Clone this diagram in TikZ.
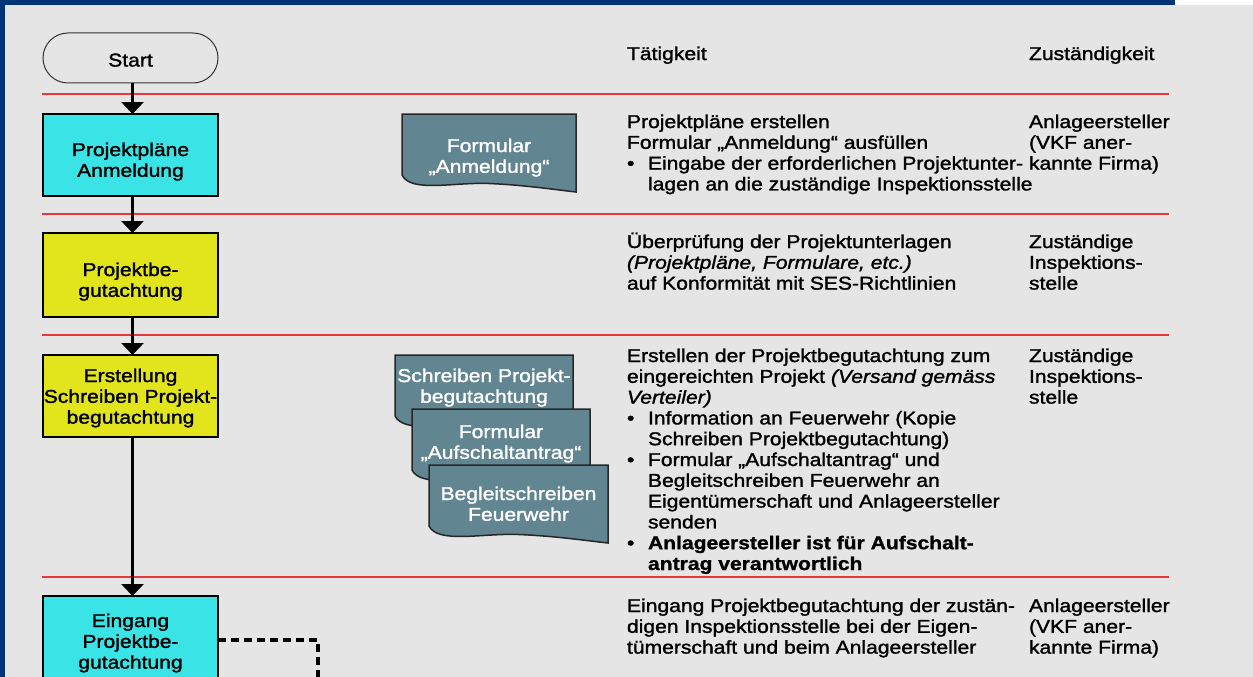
\documentclass[tikz,border=0pt]{standalone}
\usepackage{fontspec}
\setmainfont{Liberation Sans}[FakeStretch=1.14, UprightFeatures={FakeBold=1.5}, ItalicFeatures={FakeBold=1.5}, BoldFeatures={FakeBold=1.2}]
\usetikzlibrary{arrows.meta}
\definecolor{bggray}{RGB}{229,229,229}
\definecolor{frameblue}{RGB}{0,51,120}
\definecolor{redsep}{RGB}{232,56,60}
\definecolor{cCyan}{RGB}{58,228,230}
\definecolor{cYellow}{RGB}{227,229,28}
\definecolor{docfill}{RGB}{97,133,145}
\newcommand\tlines[1]{\vtop{\baselineskip=20.8pt\lineskiplimit=-100pt\lineskip=0pt\halign{##\hfil\cr#1\crcr}}}
\newcommand\clines[1]{\vtop{\baselineskip=20.8pt\lineskiplimit=-100pt\lineskip=0pt\halign{\hfil##\hfil\cr#1\crcr}}}
\newcommand\bul{\makebox[21pt][l]{•}}
\newcommand\ind{\kern21pt}
\newcommand\docshape[4]{%
  \begin{scope}[shift={(#1,#2)}]
    \path[docstyle] (0,0) -- (#3,0) -- (#3,#4)
      .. controls (0.85*#3,#4-3) and (0.7*#3,#4-7) .. (0.5*#3,#4-8.5)
      .. controls (0.3*#3,#4-10) and (0.05*#3,#4+1) .. (0,#4-17) -- cycle;
  \end{scope}}
\tikzset{
  every node/.style={inner sep=0pt, outer sep=0pt, font=\fontsize{18.5}{20.8}\selectfont},
  flowbox/.style={draw=black, line width=1.5pt, minimum width=175pt},
  cyanbox/.style={flowbox, fill=cCyan},
  yellowbox/.style={flowbox, fill=cYellow},
  terminal/.style={draw=black!80, line width=1pt, minimum width=175pt, minimum height=50pt, rounded corners=25pt},
  flowarrow/.style={line width=3.5pt, -{Triangle[width=22pt,length=12pt]}},
  dashconn/.style={line width=3.5pt, dash pattern=on 8pt off 5pt},
  sepline/.style={draw=redsep, line width=2pt},
  docstyle/.style={fill=docfill, draw=black!85, line width=1.5pt},
  doctext/.style={text=white, anchor=base},
  boxtext/.style={anchor=base},
  coltext/.style={anchor=base west},
}
\begin{document}
\begin{tikzpicture}[x=1pt, y=-1pt]
\useasboundingbox (0,0) rectangle (1253,677);
\clip (0,0) rectangle (1253,677);
% background and frame
\fill[bggray] (0,0) rectangle (1253,677);
\fill[frameblue] (0,0) rectangle (1175,5);
\fill[white] (1175,0) rectangle (1253,5);
\fill[frameblue] (0,0) rectangle (5,677);
% separator lines
\draw[sepline] (42,94) -- (1169,94);
\draw[sepline] (42,214) -- (1169,214);
\draw[sepline] (42,335) -- (1169,335);
\draw[sepline] (42,577) -- (1169,577);
% flow nodes
\node[terminal] (start) at (130.5,58) {};
\node[boxtext] (startt) at (130.5,66.5) {Start};
\node[cyanbox, minimum height=82pt] (b1) at (130.5,155) {};
\node[yellowbox, minimum height=84pt] (b2) at (130.5,275) {};
\node[yellowbox, minimum height=82pt] (b3) at (130.5,396) {};
\node[cyanbox, minimum height=88pt] (b4) at (130.5,640) {};
\node[boxtext] (b1t) at (130.5,156) {\clines{Projektpläne\cr Anmeldung}};
\node[boxtext] (b2t) at (130.5,276) {\clines{Projektbe-\cr gutachtung}};
\node[boxtext] (b3t) at (130.5,382) {\clines{Erstellung\cr Schreiben Projekt-\cr begutachtung}};
\node[boxtext] (b4t) at (130.5,627) {\clines{Eingang\cr Projektbe-\cr gutachtung}};
% connectors
\draw[flowarrow] ([xshift=2pt]start.south) -- ([xshift=2pt]b1.north);
\draw[flowarrow] ([xshift=2pt]b1.south) -- ([xshift=2pt]b2.north);
\draw[flowarrow] ([xshift=2pt]b2.south) -- ([xshift=2pt]b3.north);
\draw[flowarrow] ([xshift=2pt]b3.south) -- ([xshift=2pt]b4.north);
\coordinate (dend) at (318,690);
\draw[dashconn] (b4.east) -| (dend);
% documents
\docshape{402}{114}{174}{78}
\node[doctext] (d1t) at (489,152) {\clines{Formular\cr „Anmeldung“}};
\docshape{395}{355}{178}{78}
\node[doctext] (d2t) at (484,382) {\clines{Schreiben Projekt-\cr begutachtung}};
\docshape{412}{409}{178}{78}
\node[doctext] (d3t) at (501,438) {\clines{Formular\cr „Aufschaltantrag“}};
\docshape{429}{465}{179}{78}
\node[doctext] (d4t) at (518.5,500) {\clines{Begleitschreiben\cr Feuerwehr}};
% column headers
\node[coltext] (h1) at (627,60) {Tätigkeit};
\node[coltext] (h2) at (1029,60) {Zuständigkeit};
% row 1
\node[coltext] (r1a) at (627,128) {\tlines{Projektpläne erstellen\cr
Formular „Anmeldung“ ausfüllen\cr
\bul Eingabe der erforderlichen Projektunter-\cr
\ind lagen an die zuständige Inspektionsstelle}};
\node[coltext] (r1b) at (1029,128) {\tlines{Anlageersteller\cr (VKF aner-\cr kannte Firma)}};
% row 2
\node[coltext] (r2a) at (627,248) {\tlines{Überprüfung der Projektunterlagen\cr
\textit{(Projektpläne, Formulare, etc.)}\cr
auf Konformität mit SES-Richtlinien}};
\node[coltext] (r2b) at (1029,248) {\tlines{Zuständige\cr Inspektions-\cr stelle}};
% row 3
\node[coltext] (r3a) at (627,362) {\tlines{Erstellen der Projektbegutachtung zum\cr
eingereichten Projekt \textit{(Versand gemäss}\cr
\textit{Verteiler)}\cr
\bul Information an Feuerwehr (Kopie\cr
\ind Schreiben Projektbegutachtung)\cr
\bul Formular „Aufschaltantrag“ und\cr
\ind Begleitschreiben Feuerwehr an\cr
\ind Eigentümerschaft und Anlageersteller\cr
\ind senden\cr
\bul\textbf{Anlageersteller ist für Aufschalt-}\cr
\ind\textbf{antrag verantwortlich}}};
\node[coltext] (r3b) at (1029,362) {\tlines{Zuständige\cr Inspektions-\cr stelle}};
% row 4
\node[coltext] (r4a) at (627,612) {\tlines{Eingang Projektbegutachtung der zustän-\cr
digen Inspektionsstelle bei der Eigen-\cr
tümerschaft und beim Anlageersteller}};
\node[coltext] (r4b) at (1029,612) {\tlines{Anlageersteller\cr (VKF aner-\cr kannte Firma)}};
\end{tikzpicture}
\end{document}
